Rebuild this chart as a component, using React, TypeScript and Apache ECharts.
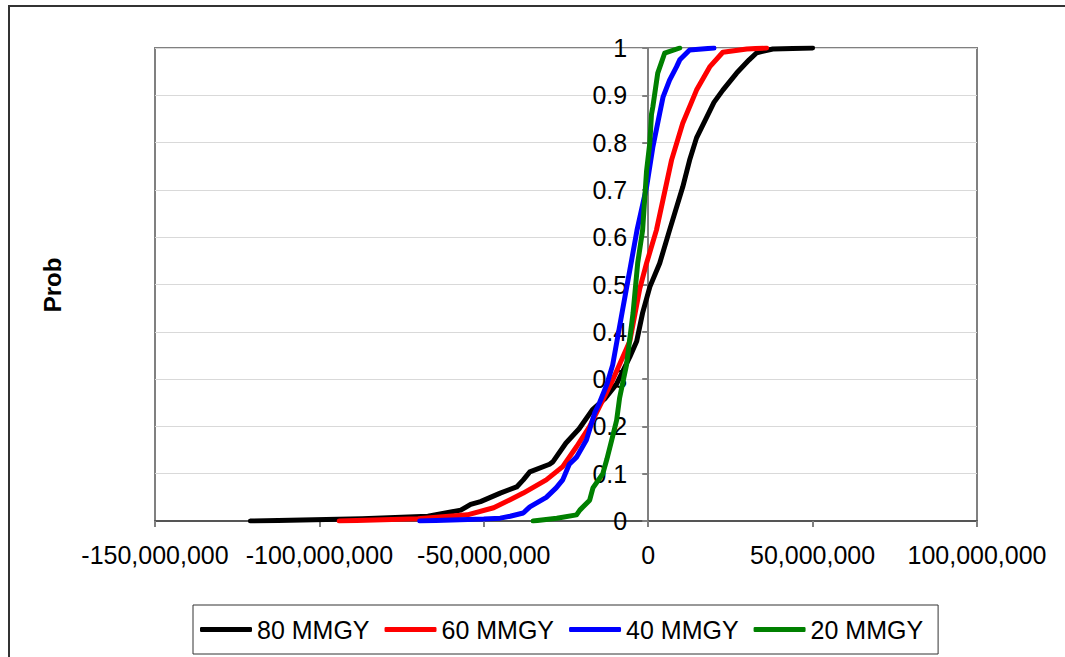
import React, { useEffect, useRef } from "react";
import * as echarts from "echarts";

// X values in millions, Y values are cumulative probabilities
const seriesNames = ["80 MMGY", "60 MMGY", "40 MMGY", "20 MMGY"];
const seriesColors = ["#000000", "#ff0000", "#0000ff", "#008000"];

const x80 = [-121, -87, -67, -57, -54, -51, -45, -40, -38, -36, -30, -29, -25, -21, -17, -13, -9.6, -5.6, -3.5, -1.7, 0.5, 3.5, 6.5, 10.5, 12.6, 14.7, 17.8, 20, 22.7, 26.9, 30.7, 33, 37.9, 50];
const y80 = [0, 0.005, 0.01, 0.023, 0.035, 0.041, 0.059, 0.072, 0.087, 0.104, 0.12, 0.125, 0.165, 0.195, 0.235, 0.26, 0.29, 0.347, 0.38, 0.44, 0.495, 0.545, 0.615, 0.706, 0.763, 0.81, 0.854, 0.885, 0.911, 0.947, 0.975, 0.99, 0.998, 1.0];

const x60 = [-94, -70, -55, -47, -42, -38, -31, -26, -21.8, -17.8, -13.8, -10.8, -5.6, -2.6, -0.5, 2.5, 7.1, 10.5, 14.7, 18.7, 22.7, 30, 36];
const y60 = [0, 0.005, 0.013, 0.028, 0.045, 0.059, 0.087, 0.115, 0.157, 0.2, 0.256, 0.298, 0.38, 0.49, 0.545, 0.615, 0.763, 0.841, 0.911, 0.96, 0.991, 0.998, 1.0];

const x40 = [-69.5, -50, -45, -42, -38, -36, -31, -28, -26, -24, -21.8, -18.8, -16.3, -14.8, -12.5, -10.8, -7.7, -5.6, -3.4, -0.5, 1.4, 3.5, 4.5, 6.5, 8.6, 9.6, 12.6, 20];
const y40 = [0, 0.004, 0.006, 0.01, 0.017, 0.03, 0.05, 0.07, 0.087, 0.12, 0.135, 0.171, 0.228, 0.25, 0.29, 0.33, 0.45, 0.53, 0.615, 0.706, 0.79, 0.862, 0.896, 0.932, 0.96, 0.975, 0.996, 1.0];

const x20 = [-35, -27.8, -21.8, -20.8, -17.8, -16.8, -13.8, -12.6, -11.1, -9.6, -8.7, -7.8, -6.6, -4.6, -3.2, -1.7, -0.5, 0.5, 1.0, 1.4, 2.9, 5.0, 9.6];
const y20 = [0, 0.006, 0.013, 0.023, 0.044, 0.07, 0.1, 0.13, 0.171, 0.213, 0.26, 0.29, 0.33, 0.44, 0.545, 0.615, 0.74, 0.8, 0.86, 0.875, 0.947, 0.989, 1.0];

const xsList = [x80, x60, x40, x20];
const ysList = [y80, y60, y40, y20];

const xMin = -150000000;
const xMax = 100000000;
const xStep = 50000000;
const yAxisTitle = "Prob";

const FONT = "'Liberation Sans', Arial, sans-serif";

const GRID_LEFT = 155;
const GRID_RIGHT = 88;
const CHART_W = 1065;

export default function App() {
  const ref = useRef<HTMLDivElement>(null);

  useEffect(() => {
    if (!ref.current) return;
    const chart = echarts.init(ref.current, undefined, { renderer: "svg" });

    const gridW = CHART_W - GRID_LEFT - GRID_RIGHT;
    // shift the y axis (line, ticks, labels) to where x = 0
    const zeroOffset = -((0 - xMin) / (xMax - xMin)) * gridW;

    const series = seriesNames.map((name, i) => ({
      name,
      type: "line",
      showSymbol: false,
      symbol: "none",
      smooth: false,
      color: seriesColors[i],
      lineStyle: { width: 5, color: seriesColors[i], cap: "round", join: "round" },
      data: xsList[i].map((x, j) => [x * 1e6, ysList[i][j]]),
    }));

    chart.setOption({
      animation: false,
      backgroundColor: "#ffffff",
      textStyle: { fontFamily: FONT },
      grid: {
        left: GRID_LEFT,
        right: GRID_RIGHT,
        top: 48,
        bottom: 136,
        show: true,
        borderColor: "#808080",
        borderWidth: 2,
        backgroundColor: "transparent",
      },
      xAxis: {
        type: "value",
        min: xMin,
        max: xMax,
        interval: xStep,
        axisLine: { show: true, onZero: false, lineStyle: { color: "#555555", width: 2 } },
        axisTick: { show: true, inside: false, length: 6, lineStyle: { color: "#808080", width: 2 } },
        axisLabel: {
          margin: 21,
          fontSize: 25,
          color: "#000",
          fontFamily: FONT,
          formatter: (v: number) => Math.round(v).toLocaleString("en-US"),
        },
        splitLine: { show: false },
      },
      yAxis: {
        type: "value",
        min: 0,
        max: 1,
        interval: 0.1,
        position: "left",
        offset: zeroOffset,
        axisLine: { show: true, onZero: false, lineStyle: { color: "#808080", width: 2 } },
        axisTick: { show: true, inside: false, length: 6, lineStyle: { color: "#808080", width: 2 } },
        axisLabel: {
          margin: 21,
          fontSize: 25,
          color: "#000",
          fontFamily: FONT,
          formatter: (v: number) => String(Math.round(v * 10) / 10),
        },
        splitLine: { show: true, lineStyle: { color: "#d9d9d9", width: 1 } },
      },
      legend: {
        left: 193,
        top: 605,
        orient: "horizontal",
        padding: [12, 15, 12, 7],
        itemGap: 15,
        itemWidth: 52,
        itemHeight: 5,
        icon: "roundRect",
        borderColor: "#333333",
        borderWidth: 1,
        backgroundColor: "#ffffff",
        textStyle: { fontSize: 25, color: "#000", fontFamily: FONT },
        data: seriesNames,
      },
      graphic: [
        {
          type: "rect",
          shape: { x: 9, y: 6, width: 1200, height: 800 },
          style: { fill: "none", stroke: "#333333", lineWidth: 2 },
          silent: true,
        },
        {
          type: "text",
          x: 52,
          y: 285,
          rotation: Math.PI / 2,
          style: {
            text: yAxisTitle,
            font: `bold 24px ${FONT}`,
            fill: "#000",
            align: "center",
            verticalAlign: "middle",
          },
        },
      ],
      series,
    });

    return () => chart.dispose();
  }, []);

  return (
    <div
      ref={ref}
      style={{ position: "absolute", left: 0, top: 0, width: CHART_W, height: 657 }}
    />
  );
}
